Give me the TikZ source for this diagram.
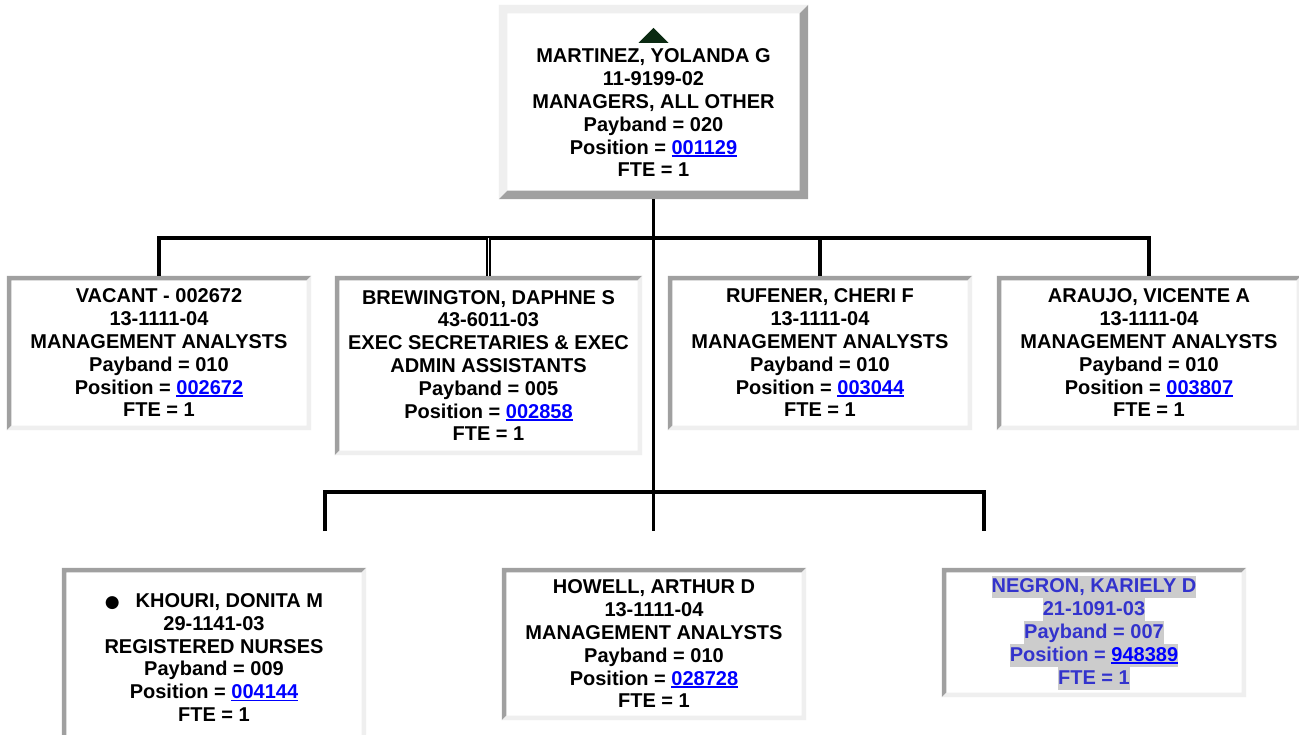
\documentclass[tikz,border=0pt]{standalone}
\usepackage{fontspec}
\setmainfont{Liberation Sans}
\newfontfamily\symfont{DejaVu Sans}
\usepackage{tikz}
\definecolor{edgedark}{HTML}{A0A0A0}
\definecolor{edgelight}{HTML}{EFEFEF}
\definecolor{linkblue}{HTML}{0000FF}
\definecolor{negblue}{HTML}{3333CC}
\definecolor{hlgray}{HTML}{CCCCCC}
\definecolor{arrowgreen}{HTML}{0B2A12}
\newsavebox\linkbox
\newcommand\poslink[1]{{\color{linkblue}\sbox\linkbox{#1}\rlap{\rule[-2.8pt]{\wd\linkbox}{1.8pt}}\usebox\linkbox}}
\newcommand\hilite[1]{{\setlength\fboxsep{0pt}\colorbox{hlgray}{\rule[-5.5pt]{0pt}{22.8pt}#1}}}
% sunken or raised edge round a box: node, top/left colour, bottom/right colour, width
\newcommand\bevel[4]{%
  \fill[#2] (#1.north west) -- (#1.north east) -- ++(-#4,#4) -| ([shift={(#4,-#4)}]#1.south west) -- (#1.south west) -- cycle;
  \fill[#3] (#1.south east) -- (#1.north east) -- ++(-#4,#4) |- ([shift={(#4,-#4)}]#1.south west) -- (#1.south west) -- cycle;
}

\begin{document}
\begin{tikzpicture}[x=1pt,y=-1pt,
  posbox/.style={rectangle,fill=white,inner sep=0pt,align=center,
    minimum width=304pt,font=\fontsize{20pt}{22.8pt}\selectfont\bfseries},
  conn/.style={line width=3.8pt}]
\useasboundingbox[fill=white] (0,0) rectangle (1299,734);
% Head of the unit
\node[posbox,minimum width=309pt,minimum height=194pt] (top) at (653.5,102)
  {\rule{0pt}{13pt}\\MARTINEZ, YOLANDA G\\11-9199-02\\MANAGERS, ALL OTHER\\Payband = 020\\Position = \poslink{001129}\\FTE = 1};
\bevel{top}{edgelight}{edgedark}{8.5}
\fill[arrowgreen] ([shift={(-15,38)}]top.north) -- ++(30,0) -- ++(-15,-15) -- cycle;
% First row
\node[posbox,minimum height=154pt] (vac) at (159,353)
  {VACANT - 002672\\13-1111-04\\MANAGEMENT ANALYSTS\\Payband = 010\\Position = \poslink{002672}\\FTE = 1};
\node[posbox,minimum width=307pt,minimum height=179pt] (brew) at (488.5,365.5)
  {BREWINGTON, DAPHNE S\\43-6011-03\\EXEC SECRETARIES \& EXEC\\ADMIN ASSISTANTS\\Payband = 005\\Position = \poslink{002858}\\FTE = 1};
\node[posbox,minimum height=154pt] (ruf) at (820,353)
  {RUFENER, CHERI F\\13-1111-04\\MANAGEMENT ANALYSTS\\Payband = 010\\Position = \poslink{003044}\\FTE = 1};
\node[posbox,minimum height=154pt] (ara) at (1149,353)
  {ARAUJO, VICENTE A\\13-1111-04\\MANAGEMENT ANALYSTS\\Payband = 010\\Position = \poslink{003807}\\FTE = 1};
% Second row
\node[posbox,minimum height=179pt] (kho) at (214,657.5)
  {{\symfont\fontsize{17pt}{17pt}\selectfont ●}\hspace{16pt}KHOURI, DONITA M\\29-1141-03\\REGISTERED NURSES\\Payband = 009\\Position = \poslink{004144}\\FTE = 1};
\node[posbox,minimum height=152pt] (how) at (654,644)
  {HOWELL, ARTHUR D\\13-1111-04\\MANAGEMENT ANALYSTS\\Payband = 010\\Position = \poslink{028728}\\FTE = 1};
\node[posbox,minimum height=129pt,text=negblue] (neg) at (1094,632.5)
  {\hilite{NEGRON, KARIELY D}\\\hilite{21-1091-03}\\\hilite{Payband = 007}\\\hilite{Position = \poslink{948389}}\\\hilite{FTE = 1}};
\foreach \b in {vac,brew,ruf,ara,kho,how,neg}
  \bevel{\b}{edgedark}{edgelight}{4.5}
% Connectors
\coordinate (barup) at (653.5,238);
\coordinate (barlow) at (653.5,492);
\coordinate (dropL) at (325,531);
\coordinate (dropR) at (984,531);
\draw[conn] (top.south) -- (barlow);
\draw[conn] (vac.north) -- (vac.north |- barup) -| (ara.north);
\draw[conn] (ruf.north) -- (ruf.north |- barup);
\draw[double,double distance=1.3pt,line width=1.7pt] (brew.north) -- (brew.north |- barup);
\draw[conn] (dropL) |- (barlow) -| (dropR);
\draw[conn] (barlow) -- (barlow |- dropR);
\end{tikzpicture}
\end{document}
